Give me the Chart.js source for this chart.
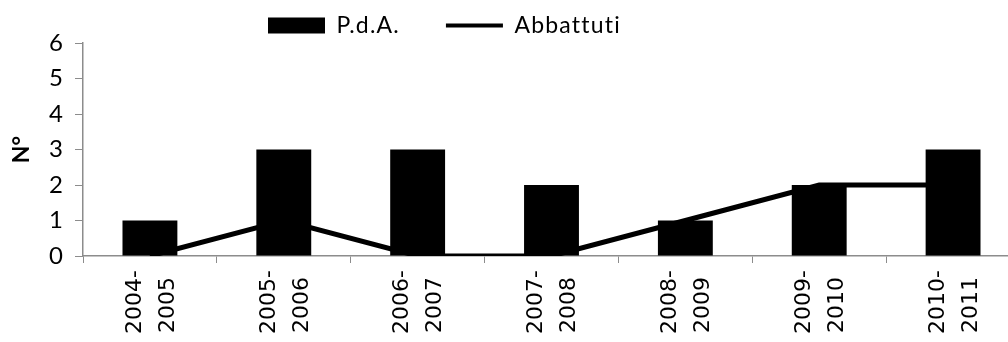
<!DOCTYPE html>
<html>
<head>
<meta charset="utf-8">
<script src="https://cdn.jsdelivr.net/npm/chart.js@4"></script>
<style>
  html, body { margin: 0; padding: 0; background: #fff; overflow: hidden; }
  #wrap { position: absolute; left: 0; top: 0; width: 1040px; height: 356px; }
</style>
</head>
<body>
<div id="wrap"><canvas id="chart" width="1040" height="356"></canvas></div>
<script>
// seasons, two lines per tick label (trailing space keeps the second line shifted like the original)
const seasonLabels = [
  ['2004-', '2005 '],
  ['2005-', '2006 '],
  ['2006-', '2007 '],
  ['2007-', '2008 '],
  ['2008-', '2009 '],
  ['2009-', '2010 '],
  ['2010-', '2011 ']
];
const pdaValues = [1, 3, 3, 2, 1, 2, 3];
const abbattutiValues = [0, 1, 0, 0, 1, 2, 2];
const seriesNames = ['P.d.A.', 'Abbattuti'];
const yMin = 0;
const yMax = 6;

const axisGray = '#8c8c8c';

// move the legend to where the original had it, with a little letter spacing
const legendPlace = {
  id: 'legendPlace',
  afterLayout(chart) {
    const lg = chart.legend;
    const pad = lg.options.labels.padding;
    lg.left = 268 - pad;
    lg.top = 14 - pad;
    if (!lg._spaced) {
      const draw = lg.draw.bind(lg);
      lg.draw = function() {
        chart.ctx.save();
        chart.ctx.letterSpacing = '1.2px';
        draw();
        chart.ctx.restore();
      };
      lg._spaced = true;
    }
  }
};

new Chart(document.getElementById('chart'), {
  type: 'bar',
  data: {
    labels: seasonLabels,
    datasets: [
      {
        type: 'bar',
        label: seriesNames[0],
        data: pdaValues,
        backgroundColor: '#000',
        borderWidth: 0,
        barPercentage: 0.41,
        categoryPercentage: 1,
        order: 1
      },
      {
        type: 'line',
        label: seriesNames[1],
        data: abbattutiValues,
        borderColor: '#000',
        backgroundColor: '#000',
        borderWidth: 5,
        pointRadius: 0,
        tension: 0,
        order: 2
      }
    ]
  },
  options: {
    responsive: false,
    animation: false,
    layout: { padding: { left: 0, right: 20, top: 3, bottom: 0 } },
    plugins: {
      tooltip: { enabled: false },
      legend: {
        position: 'top',
        align: 'start',
        maxHeight: 40,
        labels: {
          usePointStyle: true,
          pointStyleWidth: 57,
          boxHeight: 16,
          padding: 46,
          color: '#000',
          font: { family: 'Lato', size: 23 },
          generateLabels(chart) {
            const items = Chart.defaults.plugins.legend.labels.generateLabels(chart);
            return items.map(it => Object.assign(it, it.datasetIndex === 0
              ? { pointStyle: 'rect', lineWidth: 0, fillStyle: '#000', strokeStyle: '#000' }
              : { pointStyle: 'line', lineWidth: 4, strokeStyle: '#000' }));
          }
        }
      }
    },
    scales: {
      x: {
        afterFit(scale) { scale.height = 100; },
        grid: {
          offset: true,
          drawOnChartArea: false,
          drawTicks: true,
          tickLength: 7,
          color: axisGray
        },
        border: { display: true, color: axisGray, width: 1.5 },
        ticks: {
          minRotation: 90,
          maxRotation: 90,
          autoSkip: false,
          padding: 7,
          labelOffset: -15,
          color: '#000',
          font: { family: 'DejaVu Sans', size: 22, lineHeight: 1.5 }
        }
      },
      y: {
        min: yMin,
        max: yMax,
        afterFit(scale) { scale.width = 83; },
        grid: {
          drawOnChartArea: false,
          drawTicks: true,
          tickLength: 8,
          color: axisGray
        },
        border: { display: true, color: axisGray, width: 1.5 },
        ticks: {
          stepSize: 1,
          padding: 12,
          color: '#000',
          font: { family: 'Lato', size: 24 }
        },
        title: {
          display: true,
          text: 'N°',
          color: '#000',
          padding: { top: 8, bottom: 0 },
          font: { family: 'Lato', size: 23, weight: 'bold' }
        }
      }
    }
  },
  plugins: [legendPlace]
});
</script>
</body>
</html>
